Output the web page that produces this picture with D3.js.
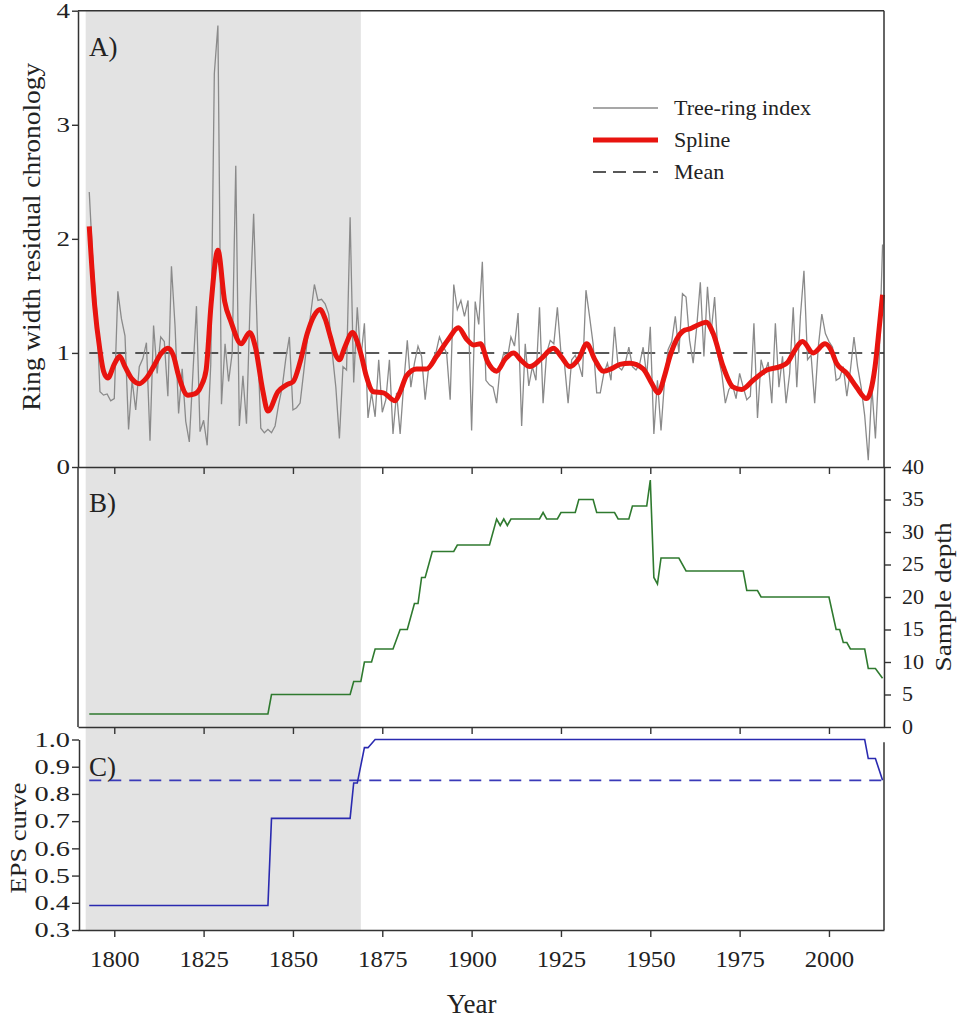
<!DOCTYPE html>
<html>
<head>
<meta charset="utf-8">
<script src="https://cdn.jsdelivr.net/npm/d3@7"></script>
<style>
  body { margin: 0; background: #fff; }
  text { font-family: "Liberation Serif", "Times New Roman", serif; fill: #222; }
</style>
</head>
<body>
<svg id="chart" width="959" height="1025"></svg>
<script>
// Tree-ring index, one value per year starting in firstYear
const firstYear = 1793;
const ringIndex = [
  2.41, 1.80, 1.40, 0.66, 0.63, 0.64, 0.58,
  0.60, 1.54, 1.30, 1.15, 0.33, 0.76, 0.50, 0.88, 0.95, 1.09,
  0.23, 1.24, 0.82, 1.14, 1.10, 0.62, 1.76, 1.24, 0.47, 0.86,
  0.40, 0.22, 0.82, 1.41, 0.31, 0.41, 0.19, 0.90, 3.45, 3.87,
  0.55, 1.08, 0.75, 1.00, 2.64, 0.36, 0.80, 0.38, 1.42, 2.22,
  1.20, 0.34, 0.30, 0.33, 0.30, 0.36, 0.55, 0.70, 0.95, 1.14,
  0.50, 0.52, 0.56, 0.83, 1.11, 1.35, 1.60, 1.46, 1.47, 1.43,
  1.34, 1.00, 0.70, 0.25, 0.88, 0.85, 2.19, 0.74, 1.40, 0.95,
  1.26, 0.43, 0.65, 0.44, 0.94, 0.48, 0.59, 0.94, 0.29, 0.65,
  0.29, 0.73, 1.11, 0.70, 0.91, 1.06, 0.97, 0.59, 0.88, 0.94,
  1.00, 1.14, 1.06, 1.00, 0.59, 1.60, 1.38, 1.46, 1.32, 1.46,
  0.32, 1.45, 1.25, 1.80, 0.76, 0.72, 0.70, 0.56, 0.88, 1.00,
  0.95, 1.14, 1.06, 1.35, 0.36, 1.08, 0.71, 0.88, 0.76, 1.40,
  0.56, 1.00, 1.11, 1.08, 1.40, 1.00, 0.90, 0.56, 0.94, 0.98,
  0.90, 0.79, 1.55, 1.32, 1.08, 0.65, 0.65, 0.82, 0.91, 0.76,
  1.23, 0.88, 0.85, 0.91, 1.05, 0.88, 0.85, 0.90, 1.05, 0.80,
  1.23, 0.29, 0.76, 0.32, 0.76, 1.03, 1.10, 1.32, 1.00, 1.52,
  1.49, 1.11, 0.91, 1.23, 1.62, 0.97, 1.58, 1.17, 1.49, 0.97,
  0.82, 0.56, 0.68, 0.72, 0.60, 0.82, 0.70, 0.59, 0.62, 1.26,
  0.43, 0.94, 0.82, 0.92, 0.56, 1.26, 0.70, 0.97, 0.56, 0.82,
  1.40, 0.70, 1.32, 1.72, 0.94, 0.98, 0.56, 1.05, 1.34, 1.17,
  1.10, 1.05, 0.76, 0.78, 0.88, 0.62, 0.85, 1.14, 0.88, 0.70,
  0.45, 0.06, 0.70, 0.25, 0.90, 1.95
];
const ringYears = ringIndex.map((v, i) => firstYear + i);

// Spline at its turning points
const splineYears = [1793, 1794.5, 1796, 1797, 1798.2, 1800, 1801.5, 1803, 1805, 1807,
  1809, 1811, 1813, 1815, 1816.5, 1818, 1820.6, 1822.5, 1824.3, 1825.7,
  1827.1, 1829, 1830.9, 1832.7, 1835.5, 1837.9, 1839.5, 1841.5, 1843, 1845.8,
  1848.2, 1850.1, 1852, 1854, 1856, 1857.6, 1859, 1860.5, 1862, 1863,
  1864.5, 1866.7, 1868, 1869.2, 1870.5, 1872.5, 1875.3, 1878.6, 1880, 1881.8,
  1884.6, 1887.4, 1890.2, 1893.5, 1896.3, 1898.6, 1900.5, 1902.5, 1904.5, 1907,
  1909.5, 1911.7, 1914, 1916.3, 1919.5, 1922.9, 1925, 1927.5, 1930, 1932.2,
  1934.5, 1936.9, 1939, 1941.5, 1944.3, 1948, 1950.3, 1952.2, 1954, 1955.5,
  1957.4, 1959.7, 1961, 1963, 1965.6, 1967.6, 1970.4, 1973.2, 1975.6, 1978.8,
  1982.6, 1986.3, 1988.5, 1990, 1992.6, 1995.6, 1998.9, 2000.5, 2002.1, 2005,
  2007.7, 2010.5, 2012.9, 2014, 2015];
const splineValues = [2.11, 1.42, 1.02, 0.84, 0.78, 0.90, 0.97, 0.88, 0.77, 0.73,
  0.78, 0.88, 0.99, 1.04, 0.98, 0.80, 0.63, 0.64, 0.71, 0.85,
  1.43, 1.90, 1.45, 1.27, 1.08, 1.18, 1.05, 0.68, 0.49, 0.66,
  0.72, 0.75, 0.92, 1.17, 1.33, 1.38, 1.30, 1.14, 0.98, 0.94,
  1.05, 1.18, 1.10, 0.97, 0.80, 0.66, 0.65, 0.58, 0.66, 0.80,
  0.86, 0.86, 0.97, 1.12, 1.22, 1.12, 1.07, 1.08, 0.92, 0.84,
  0.95, 1.00, 0.93, 0.88, 0.95, 1.04, 0.97, 0.88, 0.95, 1.08,
  0.94, 0.84, 0.86, 0.90, 0.91, 0.86, 0.74, 0.65, 0.80, 0.97,
  1.12, 1.20, 1.21, 1.24, 1.27, 1.17, 0.88, 0.70, 0.68, 0.76,
  0.85, 0.88, 0.92, 1.00, 1.10, 1.00, 1.08, 1.03, 0.91, 0.82,
  0.70, 0.60, 0.88, 1.20, 1.51];
const meanValue = 1;

// Sample depth (number of series), change points
const depthYears = [1793, 1843, 1844, 1866, 1867, 1869, 1870, 1872, 1873, 1878,
  1880, 1882, 1884, 1885, 1886, 1887, 1889, 1895, 1896, 1905,
  1907, 1908, 1909, 1910, 1911, 1919, 1920, 1921, 1924, 1925,
  1929, 1930, 1934, 1935, 1940, 1941, 1944, 1945, 1949, 1950,
  1951, 1952, 1953, 1958, 1960, 1976, 1977, 1980, 1981, 2000,
  2002, 2003, 2004, 2005, 2006, 2010, 2011, 2013, 2015];
const depthValues = [2, 2, 5, 5, 7, 7, 10, 10, 12, 12,
  15, 15, 19, 19, 23, 23, 27, 27, 28, 28,
  32, 31, 32, 31, 32, 32, 33, 32, 32, 33,
  33, 35, 35, 33, 33, 32, 32, 34, 34, 38,
  23, 22, 26, 26, 24, 24, 21, 21, 20, 20,
  15, 15, 13, 13, 12, 12, 9, 9, 7.5];

// EPS curve, change points
const epsYears = [1793, 1843, 1844, 1866, 1867, 1868, 1870, 1871, 1873, 2010, 2011, 2013, 2015];
const epsValues = [0.39, 0.39, 0.71, 0.71, 0.84, 0.84, 0.97, 0.97, 1.0, 1.0, 0.93, 0.93, 0.85];
const epsThreshold = 0.85;

// Shaded period (EPS below threshold)
const shadeStart = 1792, shadeEnd = 1869;

const xTicks = [1800, 1825, 1850, 1875, 1900, 1925, 1950, 1975, 2000];
const ringTicks = [0, 1, 2, 3, 4];
const depthTicks = [0, 5, 10, 15, 20, 25, 30, 35, 40];
const epsTicks = [0.3, 0.4, 0.5, 0.6, 0.7, 0.8, 0.9, 1.0];
const legendLabels = ["Tree-ring index", "Spline", "Mean"];

const svg = d3.select("#chart");
const L = 78, R = 884;
const x = d3.scaleLinear().domain([1789.85, 2015.4]).range([L, R]);
const yA = d3.scaleLinear().domain([0, 4]).range([467, 10.7]);
const yB = d3.scaleLinear().domain([0, 40]).range([727, 467]);
const yC = d3.scaleLinear().domain([0.3, 1.0]).range([930, 739.5]);
const axisColor = "#333";

// stretch text horizontally to match the wide lettering of the original
function stretch(sel, k) {
  sel.each(function () {
    const w = this.getComputedTextLength();
    d3.select(this).attr("textLength", w * k).attr("lengthAdjust", "spacingAndGlyphs");
  });
}

// grey shading across all panels
svg.append("rect")
  .attr("x", x(shadeStart)).attr("y", yA(4))
  .attr("width", x(shadeEnd) - x(shadeStart))
  .attr("height", yC(0.3) - yA(4))
  .attr("fill", "#e3e3e3");

// ---- Panel A ----
svg.append("line")
  .attr("x1", x(firstYear)).attr("x2", R)
  .attr("y1", yA(meanValue)).attr("y2", yA(meanValue))
  .attr("stroke", "#222").attr("stroke-width", 1.4)
  .attr("stroke-dasharray", "14,9");

svg.append("path")
  .datum(ringIndex)
  .attr("d", d3.line().x((d, i) => x(ringYears[i])).y(d => yA(d)))
  .attr("fill", "none").attr("stroke", "#8a8a8a").attr("stroke-width", 1.3);

svg.append("path")
  .datum(splineValues)
  .attr("d", d3.line().curve(d3.curveMonotoneX).x((d, i) => x(splineYears[i])).y(d => yA(d)))
  .attr("fill", "none").attr("stroke", "#e8140f").attr("stroke-width", 5)
  .attr("stroke-linejoin", "round");

// ---- Panel B ----
svg.append("path")
  .datum(depthValues)
  .attr("d", d3.line().x((d, i) => x(depthYears[i])).y(d => yB(d)))
  .attr("fill", "none").attr("stroke", "#2f7a2f").attr("stroke-width", 1.6);

// ---- Panel C ----
svg.append("line")
  .attr("x1", x(firstYear)).attr("x2", R)
  .attr("y1", yC(epsThreshold)).attr("y2", yC(epsThreshold))
  .attr("stroke", "#3a3ab8").attr("stroke-width", 1.8)
  .attr("stroke-dasharray", "12,8");

svg.append("path")
  .datum(epsValues)
  .attr("d", d3.line().x((d, i) => x(epsYears[i])).y(d => yC(d)))
  .attr("fill", "none").attr("stroke", "#2a2ab0").attr("stroke-width", 1.6);

// ---- axes and frames ----
const gAxes = svg.append("g");

function frameLine(x1, y1, x2, y2) {
  gAxes.append("line").attr("x1", x1).attr("y1", y1).attr("x2", x2).attr("y2", y2)
    .attr("stroke", axisColor).attr("stroke-width", 1.5);
}

function styleAxis(g) {
  g.selectAll("path.domain").attr("stroke", axisColor).attr("stroke-width", 1.5);
  g.selectAll(".tick line").attr("stroke", axisColor).attr("stroke-width", 1.4);
  g.selectAll("text").attr("fill", "#222").attr("font-family", null);
}

// A frame
frameLine(L, yA(4), R, yA(4));
frameLine(R, yA(4), R, yA(0));
const axA = gAxes.append("g").attr("transform", `translate(${L},0)`)
  .call(d3.axisLeft(yA).tickValues(ringTicks).tickSize(6).tickSizeOuter(0).tickPadding(2).tickFormat(d3.format("d")));
styleAxis(axA);
axA.selectAll("text").attr("font-size", 20);
stretch(axA.selectAll("text"), 1.35);

const axAb = gAxes.append("g").attr("transform", `translate(0,${yA(0)})`)
  .call(d3.axisBottom(x).tickValues(xTicks).tickSize(7).tickSizeOuter(0).tickFormat(""));
styleAxis(axAb);

// B frame
frameLine(L, yB(40), L, yB(0));
const axB = gAxes.append("g").attr("transform", `translate(${R},0)`)
  .call(d3.axisRight(yB).tickValues(depthTicks).tickSize(7).tickSizeOuter(0).tickPadding(11));
styleAxis(axB);
axB.selectAll("text").attr("font-size", 20);
stretch(axB.selectAll("text"), 1.1);

const axBb = gAxes.append("g").attr("transform", `translate(0,${yB(0)})`)
  .call(d3.axisBottom(x).tickValues(xTicks).tickSize(7).tickSizeOuter(0).tickFormat(""));
styleAxis(axBb);

// C frame
const axC = gAxes.append("g").attr("transform", `translate(${L + 1},0)`)
  .call(d3.axisLeft(yC).tickValues(epsTicks).tickSize(7).tickSizeOuter(0).tickPadding(2).tickFormat(d3.format(".1f")));
styleAxis(axC);
axC.selectAll("text").attr("font-size", 21);
stretch(axC.selectAll("text"), 1.35);
frameLine(R, yC(0.99), R, yC(0.3));

const axCb = gAxes.append("g").attr("transform", `translate(0,${yC(0.3)})`)
  .call(d3.axisBottom(x).tickValues(xTicks).tickSize(7).tickSizeOuter(0).tickPadding(13).tickFormat(d3.format("d")));
styleAxis(axCb);
axCb.selectAll("text").attr("font-size", 24);
stretch(axCb.selectAll("text"), 1.03);

// panel letters
const panelLetters = [["A)", yA(4) + 45], ["B)", yB(40) + 45], ["C)", yC(0.85) - 4]];
svg.selectAll("text.panel").data(panelLetters).join("text")
  .attr("class", "panel")
  .attr("x", 89).attr("y", d => d[1])
  .attr("font-size", 27)
  .text(d => d[0]);

// axis titles
svg.append("text")
  .attr("transform", `translate(40,${(yA(4) + yA(0)) / 2 - 2}) rotate(-90)`)
  .attr("text-anchor", "middle").attr("font-size", 25)
  .attr("textLength", 348).attr("lengthAdjust", "spacingAndGlyphs")
  .text("Ring width residual chronology");

svg.append("text")
  .attr("transform", `translate(951,597) rotate(-90)`)
  .attr("text-anchor", "middle").attr("font-size", 23)
  .attr("textLength", 149).attr("lengthAdjust", "spacingAndGlyphs")
  .text("Sample depth");

svg.append("text")
  .attr("transform", `translate(26,838) rotate(-90)`)
  .attr("text-anchor", "middle").attr("font-size", 24)
  .attr("textLength", 111).attr("lengthAdjust", "spacingAndGlyphs")
  .text("EPS curve");

svg.append("text")
  .attr("x", x(1900)).attr("y", 1013)
  .attr("text-anchor", "middle").attr("font-size", 27)
  .text("Year");

// legend
const legendStyles = [
  { stroke: "#8a8a8a", width: 1.3, dash: null },
  { stroke: "#e8140f", width: 5, dash: null },
  { stroke: "#222", width: 1.4, dash: "13,7" }
];
const lg = svg.append("g").attr("transform", "translate(593,108)");
const items = lg.selectAll("g").data(legendLabels).join("g")
  .attr("transform", (d, i) => `translate(0,${i * 32})`);
items.append("line")
  .attr("x1", 0).attr("x2", 65).attr("y1", 0).attr("y2", 0)
  .attr("stroke", (d, i) => legendStyles[i].stroke)
  .attr("stroke-width", (d, i) => legendStyles[i].width)
  .attr("stroke-dasharray", (d, i) => legendStyles[i].dash);
items.append("text")
  .attr("x", 81).attr("y", 7)
  .attr("font-size", 21)
  .text(d => d);
stretch(items.selectAll("text"), 1.05);
</script>
</body>
</html>
